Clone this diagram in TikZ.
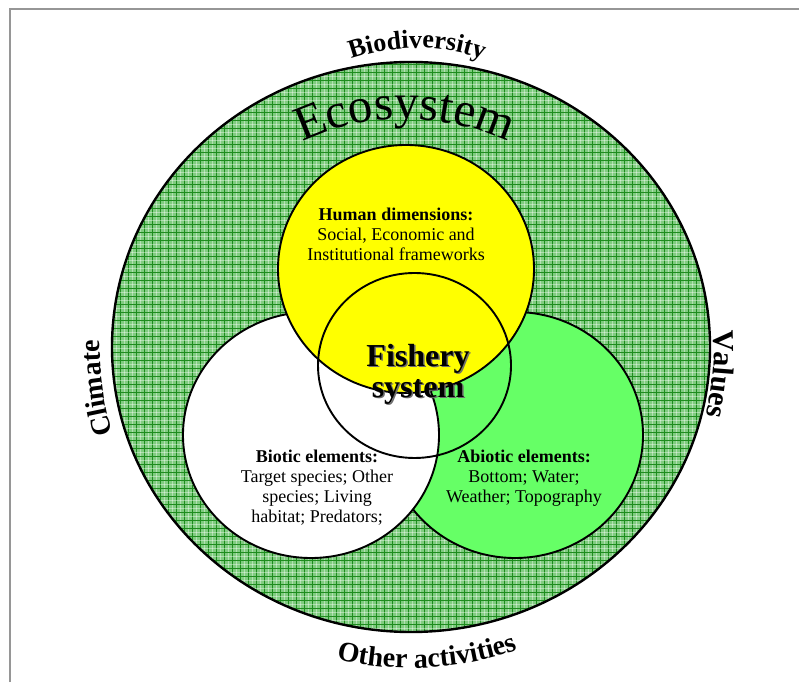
\documentclass[tikz,border=0pt]{standalone}
\usepackage{fontspec}
\setmainfont{Liberation Serif}
\usetikzlibrary{decorations.text}
\definecolor{ringgreen}{RGB}{128,204,128}
\definecolor{gridgreen}{RGB}{30,140,30}
\definecolor{humanyellow}{RGB}{255,255,0}
\definecolor{abioticgreen}{RGB}{102,255,102}
\definecolor{framegray}{RGB}{150,150,150}
\definecolor{shadowgray}{RGB}{110,110,110}

\begin{document}
\begin{tikzpicture}[x=1pt,y=1pt,
  rim/.style={draw=black,line width=2.4pt},
  venn/.style={draw=black,line width=1.9pt},
  label/.style={align=center,font=\fontsize{18}{20}\selectfont,inner sep=0pt,text=black},
  arctext/.style={decorate,decoration={text along path,text align=center,text={#1}}}
]
\useasboundingbox (0,0) rectangle (799,682);

% page frame
\draw[framegray,line width=2pt] (10,0) -- (10,673) -- (799,673);

% ecosystem ring with its grid texture
\fill[ringgreen] (411,335) ellipse[x radius=299pt,y radius=285pt];
\begin{scope}
  \clip (411,335) ellipse[x radius=299pt,y radius=285pt];
  \foreach \x in {112,120,...,712} {
    \draw[gridgreen,line width=0.55pt] (\x,48) -- (\x,622);
    \draw[white,opacity=0.4,line width=0.6pt] (\x+4,48) -- (\x+4,622);
  }
  \foreach \y in {50,58,...,622} {
    \draw[gridgreen,line width=0.55pt] (110,\y) -- (712,\y);
    \draw[white,opacity=0.4,line width=0.6pt] (110,\y+4) -- (712,\y+4);
  }
\end{scope}
\draw[rim] (411,335) ellipse[x radius=299pt,y radius=285pt];

% the three overlapping circles
\draw[venn,fill=abioticgreen] (515,247) ellipse[x radius=128pt,y radius=123pt];
\draw[venn,fill=white] (311,247) ellipse[x radius=128pt,y radius=123pt];
\draw[venn,fill=humanyellow] (406,413) ellipse[x radius=128pt,y radius=124pt];
% fishery system core (outline only)
\draw[venn] (414.5,316.5) ellipse[x radius=96.5pt,y radius=92.5pt];

% arched labels around the ring
\path[arctext={|\fontsize{26}{30}\selectfont\bfseries|Biodiversity},shift={(417pt,434pt)}]
  (122:200pt) arc[start angle=122,end angle=58,radius=200pt];
\path[arctext={|\fontsize{49}{56}\selectfont|Ecosystem},shift={(405pt,322pt)}]
  (140:241pt) arc[start angle=140,end angle=40,radius=241pt];
\path[arctext={|\fontsize{28}{32}\selectfont\bfseries|Climate},shift={(411pt,335pt)}]
  (215:311pt) arc[start angle=215,end angle=160,radius=311pt];
\path[arctext={|\fontsize{30}{34}\selectfont\bfseries|Values},shift={(411pt,335pt)}]
  (20:303pt) arc[start angle=20,end angle=-30,radius=303pt];
\path[arctext={|\fontsize{28}{32}\selectfont\bfseries|Other activities},shift={(411pt,335pt)}]
  (245:321pt) arc[start angle=245,end angle=301,radius=321pt];

% circle labels
\node[label] (human) at (396,448)
  {\textbf{Human dimensions:}\\Social, Economic and\\Institutional frameworks};
\node[label] (biotic) at (317,194)
  {\textbf{Biotic elements:}\\Target species; Other\\species; Living\\habitat; Predators;};
\node[label] (abiotic) at (524,204)
  {\textbf{Abiotic elements:}\\Bottom; Water;\\Weather; Topography};

% central title with drop shadow
\node[align=center,inner sep=0pt,text=shadowgray,font=\fontsize{32}{31}\selectfont\bfseries]
  (fisheryshadow) at (419.5,306.5) {Fishery\\system};
\node[align=center,inner sep=0pt,text=black,font=\fontsize{32}{31}\selectfont\bfseries]
  (fishery) at (418,308) {Fishery\\system};
\end{tikzpicture}
\end{document}
